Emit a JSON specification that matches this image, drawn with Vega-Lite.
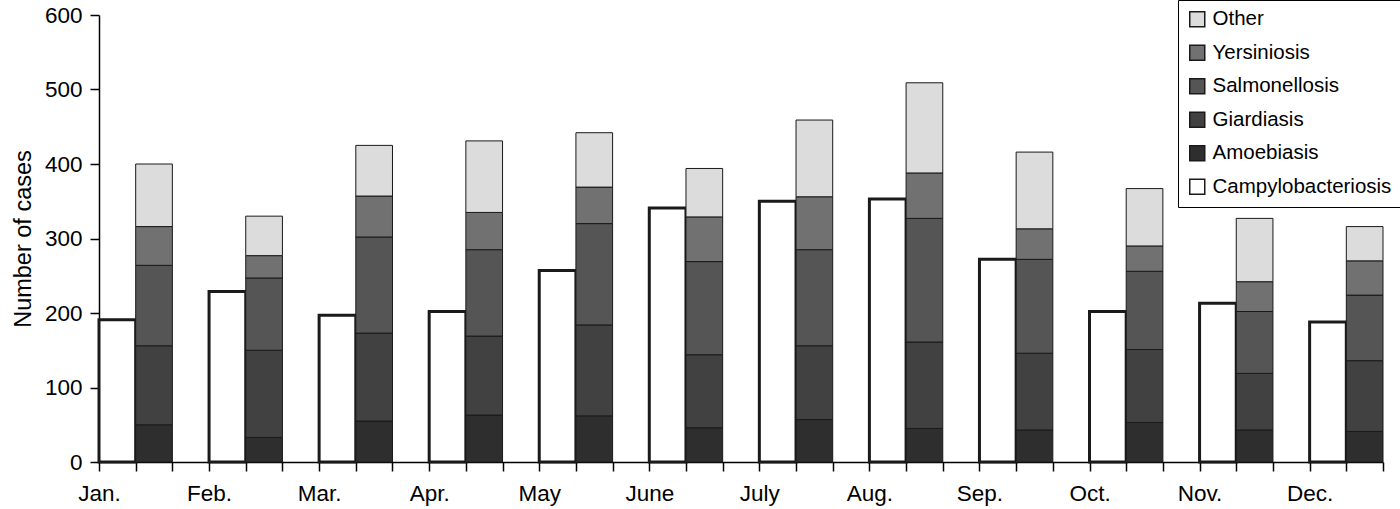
{
  "$schema": "https://vega.github.io/schema/vega-lite/v6.json",
  "width": 1284,
  "height": 447,
  "autosize": "none",
  "padding": {"left": 99, "top": 15, "right": 17, "bottom": 47},
  "background": "white",
  "config": {
    "view": {"stroke": null},
    "font": "Liberation Sans",
    "axis": {"domainColor": "black", "tickColor": "black", "labelColor": "black", "titleColor": "black", "domainWidth": 1.5, "tickWidth": 1.5, "tickSize": 9, "labelFontSize": 22.5, "grid": false}
  },
  "data": {
    "values": [
      {"month": "Jan.", "disease": "Campylobacteriosis", "cases": 191},
      {"month": "Feb.", "disease": "Campylobacteriosis", "cases": 229},
      {"month": "Mar.", "disease": "Campylobacteriosis", "cases": 197},
      {"month": "Apr.", "disease": "Campylobacteriosis", "cases": 202},
      {"month": "May", "disease": "Campylobacteriosis", "cases": 257},
      {"month": "June", "disease": "Campylobacteriosis", "cases": 341},
      {"month": "July", "disease": "Campylobacteriosis", "cases": 350},
      {"month": "Aug.", "disease": "Campylobacteriosis", "cases": 353},
      {"month": "Sep.", "disease": "Campylobacteriosis", "cases": 272},
      {"month": "Oct.", "disease": "Campylobacteriosis", "cases": 202},
      {"month": "Nov.", "disease": "Campylobacteriosis", "cases": 213},
      {"month": "Dec.", "disease": "Campylobacteriosis", "cases": 188},
      {"month": "Jan.", "disease": "Amoebiasis", "cases": 50},
      {"month": "Jan.", "disease": "Giardiasis", "cases": 106},
      {"month": "Jan.", "disease": "Salmonellosis", "cases": 108},
      {"month": "Jan.", "disease": "Yersiniosis", "cases": 52},
      {"month": "Jan.", "disease": "Other", "cases": 84},
      {"month": "Feb.", "disease": "Amoebiasis", "cases": 33},
      {"month": "Feb.", "disease": "Giardiasis", "cases": 117},
      {"month": "Feb.", "disease": "Salmonellosis", "cases": 97},
      {"month": "Feb.", "disease": "Yersiniosis", "cases": 30},
      {"month": "Feb.", "disease": "Other", "cases": 53},
      {"month": "Mar.", "disease": "Amoebiasis", "cases": 55},
      {"month": "Mar.", "disease": "Giardiasis", "cases": 118},
      {"month": "Mar.", "disease": "Salmonellosis", "cases": 129},
      {"month": "Mar.", "disease": "Yersiniosis", "cases": 55},
      {"month": "Mar.", "disease": "Other", "cases": 68},
      {"month": "Apr.", "disease": "Amoebiasis", "cases": 63},
      {"month": "Apr.", "disease": "Giardiasis", "cases": 106},
      {"month": "Apr.", "disease": "Salmonellosis", "cases": 116},
      {"month": "Apr.", "disease": "Yersiniosis", "cases": 50},
      {"month": "Apr.", "disease": "Other", "cases": 96},
      {"month": "May", "disease": "Amoebiasis", "cases": 62},
      {"month": "May", "disease": "Giardiasis", "cases": 122},
      {"month": "May", "disease": "Salmonellosis", "cases": 136},
      {"month": "May", "disease": "Yersiniosis", "cases": 49},
      {"month": "May", "disease": "Other", "cases": 73},
      {"month": "June", "disease": "Amoebiasis", "cases": 46},
      {"month": "June", "disease": "Giardiasis", "cases": 98},
      {"month": "June", "disease": "Salmonellosis", "cases": 125},
      {"month": "June", "disease": "Yersiniosis", "cases": 60},
      {"month": "June", "disease": "Other", "cases": 65},
      {"month": "July", "disease": "Amoebiasis", "cases": 57},
      {"month": "July", "disease": "Giardiasis", "cases": 99},
      {"month": "July", "disease": "Salmonellosis", "cases": 129},
      {"month": "July", "disease": "Yersiniosis", "cases": 71},
      {"month": "July", "disease": "Other", "cases": 103},
      {"month": "Aug.", "disease": "Amoebiasis", "cases": 45},
      {"month": "Aug.", "disease": "Giardiasis", "cases": 116},
      {"month": "Aug.", "disease": "Salmonellosis", "cases": 166},
      {"month": "Aug.", "disease": "Yersiniosis", "cases": 61},
      {"month": "Aug.", "disease": "Other", "cases": 121},
      {"month": "Sep.", "disease": "Amoebiasis", "cases": 43},
      {"month": "Sep.", "disease": "Giardiasis", "cases": 103},
      {"month": "Sep.", "disease": "Salmonellosis", "cases": 126},
      {"month": "Sep.", "disease": "Yersiniosis", "cases": 41},
      {"month": "Sep.", "disease": "Other", "cases": 103},
      {"month": "Oct.", "disease": "Amoebiasis", "cases": 53},
      {"month": "Oct.", "disease": "Giardiasis", "cases": 98},
      {"month": "Oct.", "disease": "Salmonellosis", "cases": 105},
      {"month": "Oct.", "disease": "Yersiniosis", "cases": 34},
      {"month": "Oct.", "disease": "Other", "cases": 77},
      {"month": "Nov.", "disease": "Amoebiasis", "cases": 43},
      {"month": "Nov.", "disease": "Giardiasis", "cases": 76},
      {"month": "Nov.", "disease": "Salmonellosis", "cases": 83},
      {"month": "Nov.", "disease": "Yersiniosis", "cases": 40},
      {"month": "Nov.", "disease": "Other", "cases": 85},
      {"month": "Dec.", "disease": "Amoebiasis", "cases": 41},
      {"month": "Dec.", "disease": "Giardiasis", "cases": 95},
      {"month": "Dec.", "disease": "Salmonellosis", "cases": 88},
      {"month": "Dec.", "disease": "Yersiniosis", "cases": 46},
      {"month": "Dec.", "disease": "Other", "cases": 46}
    ]
  },
  "transform": [
    {"calculate": "datum.month + '|' + (datum.disease == 'Campylobacteriosis' ? '1' : '2')", "as": "slot"},
    {"calculate": "indexof(['Campylobacteriosis','Amoebiasis','Giardiasis','Salmonellosis','Yersiniosis','Other'], datum.disease)", "as": "stackOrder"}
  ],
  "mark": {"type": "bar", "stroke": "#1a1a1a"},
  "encoding": {
    "x": {
      "field": "slot",
      "type": "nominal",
      "sort": null,
      "scale": {
        "domain": ["Jan.|1","Jan.|2","Jan.|3","Feb.|1","Feb.|2","Feb.|3","Mar.|1","Mar.|2","Mar.|3","Apr.|1","Apr.|2","Apr.|3","May|1","May|2","May|3","June|1","June|2","June|3","July|1","July|2","July|3","Aug.|1","Aug.|2","Aug.|3","Sep.|1","Sep.|2","Sep.|3","Oct.|1","Oct.|2","Oct.|3","Nov.|1","Nov.|2","Nov.|3","Dec.|1","Dec.|2"],
        "paddingInner": 0,
        "paddingOuter": 0
      },
      "axis": {
        "title": null,
        "tickBand": "extent",
        "labelExpr": "split(datum.value,'|')[1] == '1' ? split(datum.value,'|')[0] : ''",
        "labelOffset": -18.34,
        "labelAngle": 0,
        "labelOverlap": false,
        "labelBound": false,
        "labelPadding": 11
      }
    },
    "y": {
      "field": "cases",
      "type": "quantitative",
      "stack": "zero",
      "scale": {"domain": [0, 600], "nice": false},
      "axis": {
        "title": "Number of cases",
        "values": [0, 100, 200, 300, 400, 500, 600],
        "labelPadding": 8,
        "titleFontSize": 23.5,
        "titleFontWeight": "normal",
        "titlePadding": 9
      }
    },
    "color": {
      "field": "disease",
      "type": "nominal",
      "scale": {
        "domain": ["Other", "Yersiniosis", "Salmonellosis", "Giardiasis", "Amoebiasis", "Campylobacteriosis"],
        "range": ["#dcdcdc", "#717171", "#555555", "#414141", "#2e2e2e", "#ffffff"]
      },
      "legend": {
        "orient": "none",
        "legendX": 1079,
        "legendY": -15,
        "title": null,
        "symbolType": "square",
        "symbolSize": 225,
        "labelFontSize": 20.5,
        "labelColor": "black",
        "labelLimit": 300,
        "labelOffset": 5,
        "rowPadding": 11.5,
        "padding": 9,
        "strokeColor": "black",
        "encode": {
          "legend": {"update": {"strokeWidth": {"value": 1.5}}},
          "symbols": {"update": {"stroke": {"value": "#000000"}, "strokeWidth": {"signal": "datum.value == 'Campylobacteriosis' ? 3 : 1"}}}
        }
      }
    },
    "order": {"field": "stackOrder", "type": "quantitative"},
    "strokeWidth": {
      "condition": {"test": "datum.disease == 'Campylobacteriosis'", "value": 3},
      "value": 1
    }
  }
}
